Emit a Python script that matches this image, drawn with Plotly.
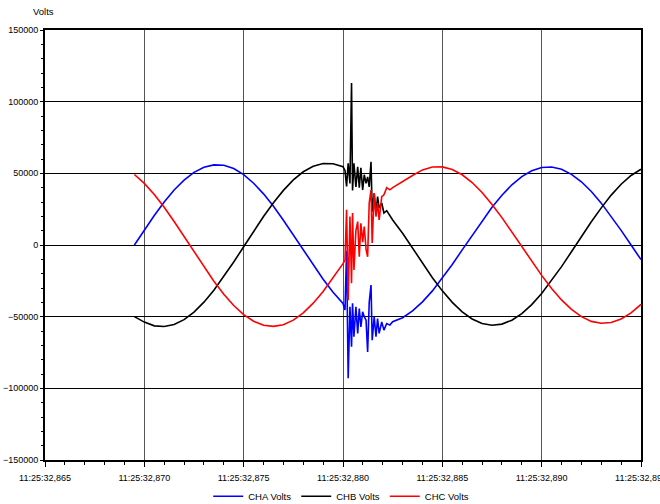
import plotly.graph_objects as go

# time in milliseconds after 11:25:32
time_ms = [
    869.5, 870.0, 870.5, 871.0, 871.5, 872.0, 872.5, 873.0, 873.5, 874.0, 874.5,
    875.0, 875.5, 876.0, 876.5, 877.0, 877.5, 878.0, 878.5, 879.0, 879.5, 880.0,
    880.10, 880.18, 880.26, 880.35, 880.43, 880.48, 880.55, 880.65, 880.74, 880.82,
    880.90, 880.99, 881.07, 881.16, 881.24, 881.32, 881.41, 881.47, 881.57, 881.66,
    881.74, 881.82, 881.95, 882.06, 882.20, 882.36,
    882.5, 883.0, 883.5, 884.0, 884.5, 885.0, 885.5, 886.0, 886.5, 887.0, 887.5,
    888.0, 888.5, 889.0, 889.5, 890.0, 890.5, 891.0, 891.5, 892.0, 892.5, 893.0,
    893.5, 894.0, 894.5, 895.0,
]

cha_volts = [
    0, 10500, 20600, 30000, 38400, 45300, 50700, 54300, 55900, 55600, 53300,
    49100, 43100, 35700, 27000, 17300, 7000, -3500, -13900, -23900, -32900, -40800,
    -45400, -4000, -93000, -43100, -71000, -40700, -64000, -43100, -61700, -44300,
    -57100, -46600, -50000, -52400, -74600, -40000, -28000, -66400, -50100, -64000,
    -51300, -61700, -53600, -59400, -54800, -55900,
    -53500, -50700, -46000, -39700, -32000, -23200, -13600, -3400, 6800, 16800, 26300,
    34700, 42000, 47700, 51800, 54100, 54400, 52800, 49300, 44100, 37300, 29200,
    20100, 10200, 0, -10200,
]

chb_volts = [
    -50000, -53800, -56400, -56900, -55500, -52100, -46800, -39900, -31500, -22100, -11900,
    -1200, 9500, 19900, 29500, 38100, 45400, 51100, 54900, 56800, 56700, 54600,
    52000, 40800, 57000, 43000, 113000, 38000, 57000, 40500, 54500, 40000,
    53800, 38500, 49000, 43000, 47500, 40500, 58000, 23300, 36000, 22000,
    33700, 25800, 29300, 22300, 24000, 20000,
    17500, 8200, -2300, -12800, -22800, -32000, -40000, -46600, -51600, -54800, -56000,
    -55200, -52500, -47900, -41600, -33900, -24900, -15100, -4700, 5900, 16200, 25900,
    34800, 42400, 48500, 52900,
]

chc_volts = [
    49200, 43000, 35300, 26300, 16400, 6000, -4800, -15300, -25300, -34300, -42200,
    -48600, -53200, -56000, -56800, -55600, -52400, -47300, -40600, -32400, -23100, -13000,
    -10500, 24500, -38500, 19800, -26600, 22300, -17500, 10000, 16300, -8200,
    15200, 2000, 12800, -3000, -8200, 29300, 38500, 1400, 36300, 19800,
    29300, 17500, 33800, 35000, 40000, 38500,
    40000, 44500, 48500, 52400, 54400, 54500, 52700, 49000, 43600, 36600, 28300,
    19100, 9100, -1100, -11400, -21200, -30300, -38300, -44900, -50000, -53300, -54600,
    -54100, -51600, -47400, -41400,
]

series_names = ["CHA Volts", "CHB Volts", "CHC Volts"]
series_colors = ["#0000FF", "#000000", "#FF0000"]

x_tick_vals = [865, 870, 875, 880, 885, 890, 895]
x_tick_text = ["11:25:32,865", "11:25:32,870", "11:25:32,875", "11:25:32,880",
               "11:25:32,885", "11:25:32,890", "11:25:32,895"]
y_tick_vals = [-150000, -100000, -50000, 0, 50000, 100000, 150000]

FONT = "Liberation Sans Narrow, Arial Narrow, Liberation Sans, Arial, sans-serif"

fig = go.Figure()
for name, col, vals in zip(series_names, series_colors, [cha_volts, chb_volts, chc_volts]):
    fig.add_trace(go.Scatter(x=time_ms, y=vals, mode="lines", name=name,
                             line=dict(color=col, width=1.6)))

fig.update_layout(
    width=660, height=504,
    margin=dict(l=45, r=19, t=30, b=44, autoexpand=False),
    paper_bgcolor="white", plot_bgcolor="white",
    font=dict(family=FONT, size=9, color="black"),
    showlegend=True,
    legend=dict(orientation="h", x=0.497, xanchor="center", y=-0.118, yanchor="bottom",
                bgcolor="rgba(0,0,0,0)", font=dict(size=9.5), itemwidth=30, tracegroupgap=0),
    annotations=[dict(text="Volts", xref="paper", yref="paper", x=-0.002, y=1.044,
                      xanchor="center", yanchor="middle", showarrow=False,
                      font=dict(size=9.5))],
)

fig.update_xaxes(
    range=[865, 895], tickmode="array", tickvals=x_tick_vals, ticktext=x_tick_text,
    automargin=False, ticklabeloverflow="allow", ticklabelstandoff=3,
    showgrid=True, gridcolor="#555555", gridwidth=1,
    showline=True, linecolor="black", linewidth=2, mirror=True,
    ticks="outside", ticklen=5, tickcolor="black", zeroline=False,
    minor=dict(dtick=1, tick0=865, ticks="outside", ticklen=3, tickcolor="black", showgrid=False),
)
fig.update_yaxes(
    range=[-150000, 150000], tickmode="array", tickvals=y_tick_vals, tickformat="d",
    automargin=False, ticklabeloverflow="allow",
    showgrid=True, gridcolor="black", gridwidth=1,
    showline=True, linecolor="black", linewidth=2, mirror=True,
    ticks="outside", ticklen=3, tickcolor="black", zeroline=False,
    minor=dict(dtick=10000, tick0=0, ticks="outside", ticklen=2, tickcolor="black", showgrid=False),
)

fig.write_html("out.html", config={"displayModeBar": False},
               post_script="document.body.style.margin='0px';document.body.style.padding='0px';")
